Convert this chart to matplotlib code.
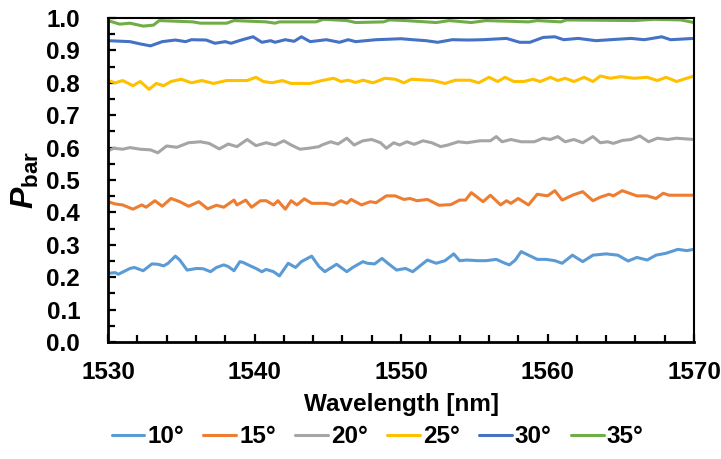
import numpy as np
from matplotlib import pyplot as plt
from matplotlib.ticker import MultipleLocator

plt.rcParams['font.family'] = ['Liberation Sans', 'DejaVu Sans']
plt.rcParams['font.weight'] = 'bold'
plt.rcParams['mathtext.fontset'] = 'custom'
plt.rcParams['mathtext.it'] = 'Liberation Sans:bold:italic'
plt.rcParams['mathtext.rm'] = 'Liberation Sans:bold'

# 10 deg
wl_10 = [1530, 1530.5, 1530.7, 1531.5, 1531.8, 1532.4, 1533.0, 1533.4, 1533.8, 1534.1,
         1534.6, 1534.9, 1535.4, 1536.05, 1536.5, 1537.0, 1537.4, 1537.9, 1538.2, 1538.6,
         1539.0, 1539.2, 1539.8, 1540.1, 1540.5, 1540.8, 1541.3, 1541.7, 1542.3, 1542.8,
         1543.2, 1543.9, 1544.4, 1544.8, 1545.6, 1546.3, 1546.7, 1547.4, 1547.7, 1548.2,
         1548.7, 1549.1, 1549.7, 1550.3, 1550.8, 1551.3, 1551.8, 1552.4, 1553.0, 1553.6,
         1554.0, 1554.5, 1555.2, 1555.8, 1556.5, 1557.1, 1557.4, 1557.8, 1558.2, 1558.7,
         1559.3, 1559.9, 1560.5, 1561.0, 1561.7, 1562.4, 1563.1, 1564.0, 1564.8, 1565.5,
         1566.1, 1566.8, 1567.4, 1568.1, 1568.9, 1569.5, 1570]
p_10 = [0.212, 0.214, 0.209, 0.227, 0.230, 0.220, 0.241, 0.240, 0.235, 0.243,
        0.265, 0.253, 0.222, 0.227, 0.226, 0.217, 0.230, 0.238, 0.233, 0.220,
        0.248, 0.246, 0.233, 0.227, 0.217, 0.224, 0.217, 0.204, 0.243, 0.230,
        0.248, 0.265, 0.233, 0.217, 0.240, 0.217, 0.230, 0.248, 0.243, 0.241,
        0.258, 0.243, 0.222, 0.227, 0.217, 0.235, 0.253, 0.243, 0.251, 0.272,
        0.251, 0.253, 0.251, 0.251, 0.255, 0.243, 0.238, 0.253, 0.279, 0.268,
        0.255, 0.255, 0.251, 0.243, 0.268, 0.248, 0.268, 0.272, 0.268, 0.250,
        0.261, 0.253, 0.268, 0.274, 0.286, 0.282, 0.286]

# 15 deg
wl_15 = [1530, 1530.5, 1531.0, 1531.7, 1532.3, 1532.6, 1533.2, 1533.7, 1534.3, 1534.9,
         1535.5, 1536.2, 1536.8, 1537.4, 1537.9, 1538.6, 1538.8, 1539.4, 1539.8, 1540.4,
         1540.8, 1541.3, 1541.6, 1542.1, 1542.5, 1542.9, 1543.4, 1543.9, 1544.9, 1545.4,
         1545.9, 1546.3, 1546.6, 1547.3, 1547.9, 1548.3, 1549.0, 1549.6, 1550.2, 1550.6,
         1551.1, 1551.8, 1552.6, 1553.4, 1554.0, 1554.4, 1554.8, 1555.6, 1556.1, 1556.8,
         1557.2, 1557.5, 1558.0, 1558.7, 1559.3, 1560.0, 1560.5, 1561.0, 1561.7, 1562.4,
         1563.1, 1563.6, 1564.2, 1564.5, 1565.1, 1566.1, 1566.8, 1567.4, 1567.9, 1568.3,
         1569.1, 1570]
p_15 = [0.433, 0.426, 0.423, 0.410, 0.423, 0.416, 0.436, 0.419, 0.443, 0.433,
        0.419, 0.433, 0.411, 0.422, 0.416, 0.438, 0.423, 0.438, 0.416, 0.436,
        0.436, 0.423, 0.436, 0.410, 0.436, 0.423, 0.442, 0.428, 0.428, 0.423,
        0.436, 0.428, 0.440, 0.423, 0.433, 0.430, 0.451, 0.451, 0.440, 0.443,
        0.436, 0.440, 0.422, 0.424, 0.438, 0.438, 0.461, 0.433, 0.453, 0.423,
        0.436, 0.428, 0.443, 0.423, 0.456, 0.451, 0.467, 0.438, 0.453, 0.464,
        0.436, 0.447, 0.456, 0.451, 0.467, 0.451, 0.451, 0.443, 0.459, 0.453,
        0.453, 0.453]

# 20 deg
wl_20 = [1530, 1530.4, 1531.0, 1531.5, 1532.2, 1532.9, 1533.4, 1534.0, 1534.7, 1535.5,
         1536.3, 1536.9, 1537.6, 1538.2, 1538.8, 1539.5, 1540.1, 1540.8, 1541.4, 1542.0,
         1542.5, 1543.1, 1543.7, 1544.4, 1544.6, 1545.2, 1545.7, 1546.3, 1546.8, 1547.4,
         1548.0, 1548.6, 1549.0, 1549.5, 1549.9, 1550.4, 1550.9, 1551.5, 1552.1, 1552.7,
         1553.2, 1553.9, 1554.5, 1555.4, 1556.1, 1556.5, 1556.9, 1557.5, 1558.2, 1559.1,
         1559.7, 1560.2, 1560.7, 1561.2, 1561.8, 1562.4, 1563.1, 1563.6, 1564.1, 1564.5,
         1565.1, 1565.7, 1566.3, 1566.9, 1567.5, 1568.2, 1568.8, 1570]
p_20 = [0.590, 0.598, 0.595, 0.600, 0.595, 0.593, 0.584, 0.605, 0.601, 0.615,
        0.618, 0.613, 0.596, 0.611, 0.603, 0.625, 0.606, 0.615, 0.608, 0.621,
        0.608, 0.595, 0.598, 0.603, 0.608, 0.618, 0.611, 0.629, 0.608, 0.621,
        0.625, 0.615, 0.598, 0.615, 0.608, 0.618, 0.610, 0.621, 0.615, 0.603,
        0.608, 0.618, 0.615, 0.621, 0.621, 0.634, 0.618, 0.625, 0.618, 0.618,
        0.629, 0.625, 0.634, 0.618, 0.625, 0.615, 0.634, 0.615, 0.618, 0.613,
        0.622, 0.625, 0.636, 0.618, 0.629, 0.625, 0.629, 0.625]

# 25 deg
wl_25 = [1530, 1530.5, 1531.0, 1531.7, 1532.2, 1532.8, 1533.3, 1533.8, 1534.3, 1535.0,
         1535.7, 1536.4, 1537.2, 1538.1, 1539.5, 1540.1, 1540.6, 1541.2, 1541.9, 1542.5,
         1543.8, 1544.6, 1545.4, 1545.9, 1546.4, 1546.9, 1547.4, 1548.1, 1548.9, 1549.6,
         1550.2, 1550.7, 1552.2, 1553.0, 1553.7, 1554.7, 1555.3, 1556.0, 1556.6, 1557.1,
         1557.7, 1558.4, 1559.0, 1559.5, 1560.2, 1560.7, 1561.2, 1561.8, 1562.5, 1563.1,
         1563.6, 1564.3, 1565.0, 1565.9, 1566.8, 1567.5, 1568.1, 1568.8, 1570]
p_25 = [0.807, 0.800, 0.807, 0.791, 0.804, 0.780, 0.798, 0.791, 0.804, 0.811,
        0.800, 0.807, 0.798, 0.807, 0.807, 0.817, 0.804, 0.800, 0.807, 0.798,
        0.798, 0.807, 0.814, 0.804, 0.808, 0.801, 0.808, 0.800, 0.814, 0.811,
        0.800, 0.811, 0.807, 0.798, 0.808, 0.808, 0.800, 0.817, 0.804, 0.817,
        0.804, 0.804, 0.811, 0.804, 0.817, 0.807, 0.814, 0.804, 0.817, 0.804,
        0.821, 0.814, 0.819, 0.814, 0.817, 0.807, 0.817, 0.804, 0.821]

# 30 deg
wl_30 = [1530, 1531.5, 1532.2, 1532.9, 1533.7, 1534.6, 1535.3, 1535.7, 1536.7, 1537.3,
         1538.0, 1538.4, 1539.1, 1539.9, 1540.5, 1541.1, 1541.4, 1542.1, 1542.7, 1543.2,
         1543.8, 1544.9, 1545.8, 1546.4, 1546.9, 1548.3, 1550.0, 1550.8, 1551.7, 1552.5,
         1553.5, 1554.6, 1555.6, 1557.2, 1558.1, 1558.8, 1559.7, 1560.5, 1561.1, 1562.1,
         1563.3, 1564.3, 1565.7, 1566.6, 1567.8, 1568.4, 1570]
p_30 = [0.930, 0.927, 0.920, 0.914, 0.927, 0.932, 0.927, 0.933, 0.932, 0.922,
        0.927, 0.922, 0.932, 0.942, 0.925, 0.930, 0.925, 0.933, 0.928, 0.942,
        0.927, 0.933, 0.925, 0.933, 0.927, 0.933, 0.936, 0.933, 0.930, 0.925,
        0.933, 0.932, 0.933, 0.937, 0.925, 0.925, 0.940, 0.942, 0.933, 0.937,
        0.930, 0.933, 0.937, 0.933, 0.942, 0.933, 0.937]

# 35 deg
wl_35 = [1530, 1530.8, 1531.5, 1532.4, 1533.1, 1533.5, 1535.8, 1536.3, 1538.1, 1538.6,
         1540.8, 1541.4, 1541.7, 1544.2, 1544.7, 1546.3, 1546.9, 1548.8, 1549.2, 1550.3,
         1552.4, 1553.3, 1554.8, 1555.8, 1558.7, 1559.3, 1560.9, 1561.3, 1565.9, 1567.3,
         1569.1, 1570]
p_35 = [0.992, 0.981, 0.984, 0.975, 0.978, 0.992, 0.988, 0.984, 0.984, 0.992,
        0.988, 0.984, 0.988, 0.988, 0.996, 0.992, 0.986, 0.988, 0.994, 0.992,
        0.986, 0.992, 0.986, 0.992, 0.988, 0.992, 0.988, 0.994, 0.992, 0.996,
        0.994, 0.986]

labels = ['10°', '15°', '20°', '25°', '30°', '35°']
colors = ['#5B9BD5', '#ED7D31', '#A5A5A5', '#FFC000', '#4472C4', '#70AD47']
series = [(wl_10, p_10), (wl_15, p_15), (wl_20, p_20),
          (wl_25, p_25), (wl_30, p_30), (wl_35, p_35)]

fig = plt.figure(figsize=(7.21, 4.59), dpi=100)
ax = fig.add_axes([0.1498, 0.2549, 0.8128, 0.7059])

for (wl, p), lab, c in zip(series, labels, colors):
    ax.plot(wl, p, color=c, lw=2.2, label=lab, solid_joinstyle='round',
            solid_capstyle='round')

ax.set_xlim(1530, 1570)
ax.set_ylim(0, 1.0)
ax.xaxis.set_major_locator(MultipleLocator(10))
ax.xaxis.set_minor_locator(MultipleLocator(2))
ax.yaxis.set_major_locator(MultipleLocator(0.1))
ax.yaxis.set_minor_locator(MultipleLocator(0.05))
ax.yaxis.set_major_formatter(plt.FormatStrFormatter('%.1f'))

ax.tick_params(which='both', direction='in', width=1.6, labelsize=17.5)
ax.tick_params(which='major', length=6)
ax.tick_params(which='minor', length=5)
ax.tick_params(axis='x', pad=14)
ax.tick_params(axis='y', pad=20)
for lbl in ax.get_xticklabels() + ax.get_yticklabels():
    lbl.set_fontweight('bold')

for s in ['left', 'bottom']:
    ax.spines[s].set_linewidth(2.0)
for s in ['top', 'right']:
    ax.spines[s].set_linewidth(1.5)

ax.set_xlabel('Wavelength [nm]', fontsize=17.5, fontweight='bold', labelpad=6)
ax.set_ylabel(r'$P_{\mathrm{bar}}$', fontsize=23, labelpad=4)

ax.legend(loc='center', bbox_to_anchor=(0.46, -0.293), ncol=6, frameon=False,
          handlelength=1.35, handletextpad=0.12, columnspacing=0.8,
          prop={'weight': 'bold', 'size': 17.5})

fig.savefig('out.png', dpi=100)
